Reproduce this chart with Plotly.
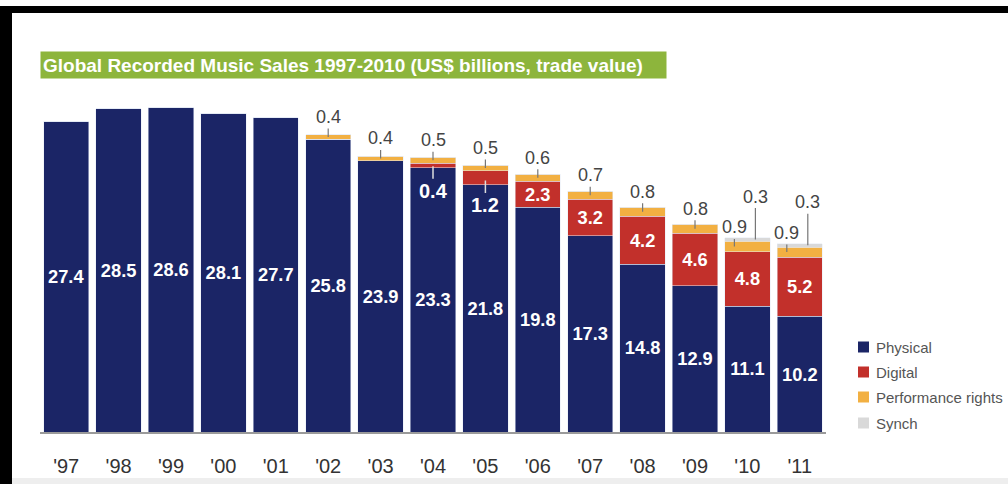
import plotly.graph_objects as go

years = ["'97", "'98", "'99", "'00", "'01", "'02", "'03", "'04", "'05", "'06", "'07", "'08", "'09", "'10", "'11"]
physical = [27.4, 28.5, 28.6, 28.1, 27.7, 25.8, 23.9, 23.3, 21.8, 19.8, 17.3, 14.8, 12.9, 11.1, 10.2]
digital = [0, 0, 0, 0, 0, 0, 0, 0.4, 1.2, 2.3, 3.2, 4.2, 4.6, 4.8, 5.2]
performance = [0, 0, 0, 0, 0, 0.4, 0.4, 0.5, 0.5, 0.6, 0.7, 0.8, 0.8, 0.9, 0.9]
synch = [0, 0, 0, 0, 0, 0, 0, 0, 0, 0, 0, 0, 0, 0.3, 0.3]
series_names = ["Physical", "Digital", "Performance rights", "Synch"]

C_PHYS = "#1b2566"
C_DIG = "#c2302b"
C_PERF = "#f2b042"
C_SYN = "#d9d9d9"
C_GREEN = "#8db53c"
colors = [C_PHYS, C_DIG, C_PERF, C_SYN]

W, H = 1008, 484
ML, MR, MT, MB = 40, 182, 100, 52
PW = W - ML - MR
PH = H - MT - MB
PX_PER_UNIT = 11.35
YMAX = PH / PX_PER_UNIT


def px(x):
    return (x - ML) / PW


def py(y):
    return (H - MB - y) / PH


SANS = "Liberation Sans, Arial, sans-serif"
bold_font = dict(family=SANS, size=20, color="white", weight="bold")

dig_text = [("%.1f" % v) if v >= 2 else "" for v in digital]

fig = go.Figure()
fig.add_trace(go.Bar(x=years, y=physical, name=series_names[0], marker_color=C_PHYS,
                     text=["%.1f" % v for v in physical], textposition="inside",
                     insidetextanchor="middle", textfont=bold_font, textangle=0))
fig.add_trace(go.Bar(x=years, y=digital, name=series_names[1], marker_color=C_DIG,
                     text=dig_text, textposition="inside", insidetextanchor="middle",
                     textfont=bold_font, textangle=0))
fig.add_trace(go.Bar(x=years, y=performance, name=series_names[2], marker_color=C_PERF))
fig.add_trace(go.Bar(x=years, y=synch, name=series_names[3], marker_color=C_SYN))

annotations = []
label_font = dict(family=SANS, size=18, color="#444444")
for i, yr in enumerate(years):
    if 0 < digital[i] < 2:
        annotations.append(dict(x=yr, y=physical[i] + digital[i] * 0.3, xref="x", yref="y",
                                text="%.1f" % digital[i], showarrow=True, arrowhead=0,
                                arrowwidth=1.5, arrowcolor="#dddddd", ax=0, ay=25,
                                font=bold_font))
    if performance[i] > 0:
        base = physical[i] + digital[i]
        if synch[i] > 0:
            annotations.append(dict(x=yr, y=base + performance[i] * 0.5, xref="x", yref="y",
                                    text="%.1f" % performance[i], showarrow=True, arrowhead=0,
                                    arrowwidth=1.2, arrowcolor="#777777", ax=0, ay=-19,
                                    xshift=-13, font=label_font))
            annotations.append(dict(x=yr, y=base + performance[i] + synch[i] * 0.5, xref="x", yref="y",
                                    text="%.1f" % synch[i], showarrow=True, arrowhead=0,
                                    arrowwidth=1.2, arrowcolor="#777777", ax=0, ay=-43,
                                    xshift=8, font=label_font))
        else:
            annotations.append(dict(x=yr, y=base + performance[i] * 0.5, xref="x", yref="y",
                                    text="%.1f" % performance[i], showarrow=True, arrowhead=0,
                                    arrowwidth=1.2, arrowcolor="#777777", ax=0, ay=-20,
                                    font=label_font))

# title box
annotations.append(dict(xref="paper", yref="paper", x=px(40), y=py(65), xanchor="left",
                        yanchor="middle", showarrow=False,
                        text="<b>Global Recorded Music Sales 1997-2010 (US$ billions, trade value)</b>",
                        font=dict(family=SANS, size=19, color="white"),
                        bgcolor=C_GREEN, borderpad=2, width=621, height=22, align="left"))

shapes = [
    dict(type="rect", xref="paper", yref="paper", x0=px(0), x1=px(W), y0=py(13), y1=py(6),
         fillcolor="black", line_width=0, layer="above"),
    dict(type="rect", xref="paper", yref="paper", x0=px(0), x1=px(12), y0=py(H), y1=py(6),
         fillcolor="black", line_width=0, layer="above"),
    dict(type="rect", xref="paper", yref="paper", x0=px(12), x1=px(W), y0=py(H), y1=py(478),
         fillcolor="#eeeeee", line_width=0, layer="above"),
]

# manual legend
legend_rows = [347, 372, 397, 423]
for name, col, yrow in zip(series_names, colors, legend_rows):
    shapes.append(dict(type="rect", xref="paper", yref="paper", x0=px(858), x1=px(869),
                       y0=py(yrow + 5.5), y1=py(yrow - 5.5), fillcolor=col, line_width=0))
    annotations.append(dict(xref="paper", yref="paper", x=px(874), y=py(yrow), xanchor="left",
                            yanchor="middle", showarrow=False, text=name,
                            font=dict(family=SANS, size=15, color="#555555")))

fig.update_layout(
    width=W, height=H,
    margin=dict(l=ML, r=MR, t=MT, b=MB, pad=0, autoexpand=False),
    barmode="stack", bargap=0.135,
    paper_bgcolor="white", plot_bgcolor="white",
    showlegend=False,
    annotations=annotations,
    shapes=shapes,
    uniformtext=dict(mode="show", minsize=10),
)
fig.update_xaxes(showline=True, linecolor="#9a9a9a", linewidth=1.5, ticks="",
                 tickfont=dict(family=SANS, size=20, color="#333333"),
                 ticklabelstandoff=15, showgrid=False, zeroline=False, automargin=False)
fig.update_yaxes(range=[0, YMAX], visible=False, showgrid=False, zeroline=False, automargin=False)

fig.write_html("out.html")
